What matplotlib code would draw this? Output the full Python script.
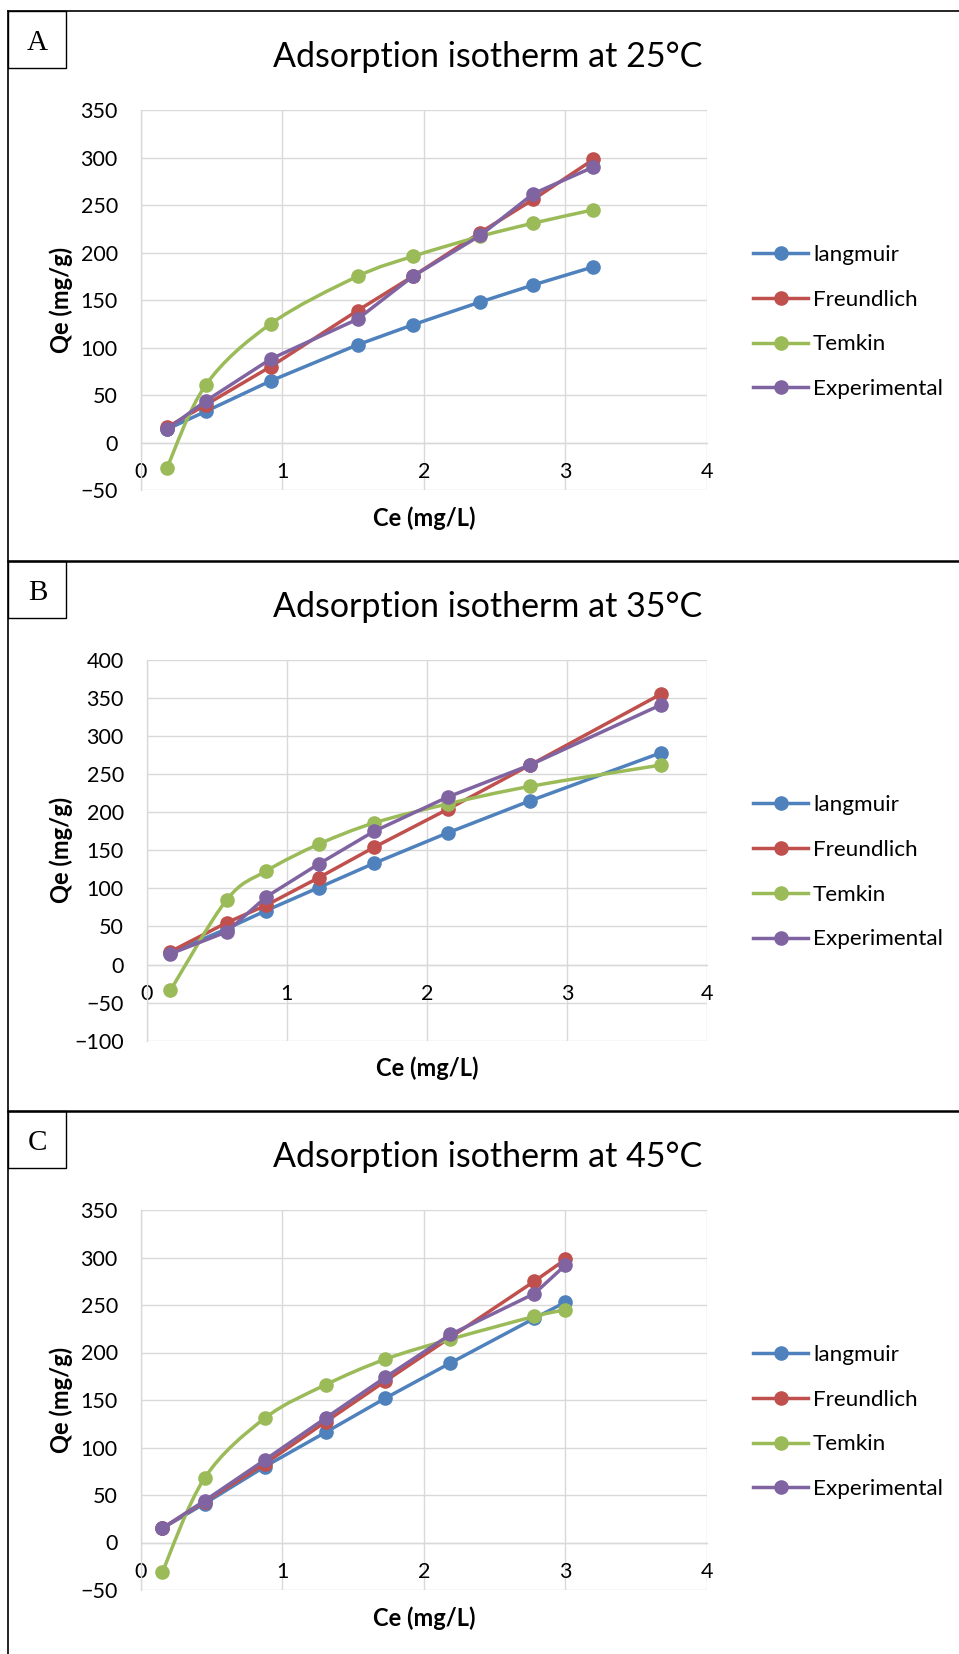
import numpy as np
import matplotlib
matplotlib.use('Agg')
import matplotlib.pyplot as plt
from matplotlib.path import Path
from matplotlib.patches import PathPatch, Rectangle
from matplotlib.lines import Line2D

plt.rcParams['font.family'] = ['Lato', 'DejaVu Sans']

# ---- data ----
series_names = ['langmuir', 'Freundlich', 'Temkin', 'Experimental']
colors = ['#4F81BD', '#C0504D', '#9BBB59', '#8064A2']

ce_25 = [0.184, 0.461, 0.918, 1.532, 1.922, 2.398, 2.774, 3.198]
langmuir_25 = [14, 33, 65, 103, 124, 148, 166, 185]
freundlich_25 = [16, 40, 80, 139, 175, 221, 256, 298]
temkin_25 = [-27, 61, 125, 175, 196, 217, 231, 245]
experimental_25 = [14, 44, 88, 130, 175, 218, 262, 290]

ce_35 = [0.169, 0.571, 0.854, 1.227, 1.623, 2.149, 2.736, 3.669]
langmuir_35 = [15, 47, 71, 101, 133, 173, 215, 278]
freundlich_35 = [17, 55, 78, 114, 154, 204, 262, 355]
temkin_35 = [-34, 85, 123, 158, 186, 211, 234, 262]
experimental_35 = [14, 43, 89, 132, 175, 220, 262, 341]

ce_45 = [0.153, 0.452, 0.878, 1.306, 1.729, 2.188, 2.781, 3.0]
langmuir_45 = [15, 41, 80, 116, 152, 189, 236, 253]
freundlich_45 = [15, 43, 83, 127, 170, 216, 275, 298]
temkin_45 = [-31, 68, 131, 166, 193, 214, 238, 245]
experimental_45 = [15, 44, 87, 131, 174, 219, 262, 292]

panel_letters = ['A', 'B', 'C']
titles = ['Adsorption isotherm at 25°C', 'Adsorption isotherm at 35°C',
          'Adsorption isotherm at 45°C']
ylims = [(-50, 350), (-100, 400), (-50, 350)]

W, H = 959, 1654
fig = plt.figure(figsize=(W / 100, H / 100), dpi=100)


def fx(px):
    return px / W


def fy(py):
    return 1 - py / H


def smooth_path(x, y):
    # bezier through the points, like excel's "smoothed line"
    pts = np.column_stack([x, y]).astype(float)
    n = len(pts)
    verts = [pts[0]]
    codes = [Path.MOVETO]
    for i in range(n - 1):
        p0 = pts[i - 1] if i > 0 else pts[i]
        p1, p2 = pts[i], pts[i + 1]
        p3 = pts[i + 2] if i + 2 < n else pts[i + 1]
        verts += [p1 + (p2 - p0) / 6, p2 - (p3 - p1) / 6, p2]
        codes += [Path.CURVE4] * 3
    return Path(verts, codes)


def panel(top, plot_box, ce, ys, letter, title, ylim):
    left, right, ptop, pbot = plot_box
    ax = fig.add_axes([fx(left), fy(pbot), fx(right - left), (pbot - ptop) / H])
    for k, (vals, c, name) in enumerate(zip(ys, colors, series_names)):
        if name == 'Temkin':
            ax.add_patch(PathPatch(smooth_path(ce, vals), fill=False, edgecolor=c,
                                   lw=2.5, zorder=3 + k, capstyle='round'))
            ax.plot(ce, vals, ls='none', marker='o', ms=9.5, color=c, zorder=3 + k)
        else:
            ax.plot(ce, vals, '-o', lw=2.5, ms=9.5, color=c, zorder=3 + k)
    ax.set_xlim(0, 4)
    ax.set_ylim(*ylim)
    ax.set_xticks(range(5))
    ax.set_yticks(np.arange(ylim[0], ylim[1] + 1, 50))
    ax.grid(True, color='#D9D9D9', lw=1.0)
    ax.set_axisbelow(True)
    ax.spines['bottom'].set_position(('data', 0))
    for s in ['top', 'right']:
        ax.spines[s].set_visible(False)
    for s in ['bottom', 'left']:
        ax.spines[s].set_color('#D9D9D9')
        ax.spines[s].set_linewidth(1.0)
    ax.tick_params(axis='both', length=0, labelsize=15.5, colors='#000000')
    ax.tick_params(axis='x', pad=14)
    ax.tick_params(axis='y', pad=16.5)

    # axis titles
    fig.text(fx(61), fy((ptop + pbot) / 2), 'Qe (mg/g)', rotation=90, ha='center',
             va='center', fontsize=17, fontweight='bold')
    fig.text(fx((left + right) / 2 + 0), fy(pbot + 28), 'Ce (mg/L)', ha='center',
             va='center', fontsize=17, fontweight='bold')
    fig.text(fx(488), fy(top + 56), title, ha='center', va='baseline', fontsize=24.5)

    # legend
    handles = [Line2D([], [], color=c, lw=2.5, marker='o', ms=9.5) for c in colors]
    ax.legend(handles, series_names, loc='center left', frameon=False,
              bbox_to_anchor=(fx(753), fy((ptop + pbot) / 2 + 22)),
              bbox_transform=fig.transFigure, fontsize=16.2, handlelength=2.45,
              handletextpad=0.22, labelspacing=1.1, borderpad=0, borderaxespad=0)

    # letter box in the corner
    fig.add_artist(Rectangle((fx(8), fy(top + 57)), fx(58), 57 / H, fill=False,
                             edgecolor='black', lw=1.0, transform=fig.transFigure))
    fig.text(fx(37.5), fy(top + 39), letter, ha='center', va='baseline',
             fontsize=21, family='Liberation Serif')
    return ax


tops = [11, 561, 1111]
boxes = [(140.7, 707, 110, 490.2), (146.7, 707, 660, 1040.7), (140.7, 707, 1210, 1590)]
all_ce = [ce_25, ce_35, ce_45]
all_ys = [[langmuir_25, freundlich_25, temkin_25, experimental_25],
          [langmuir_35, freundlich_35, temkin_35, experimental_35],
          [langmuir_45, freundlich_45, temkin_45, experimental_45]]

for i in range(3):
    panel(tops[i], boxes[i], all_ce[i], all_ys[i], panel_letters[i], titles[i], ylims[i])

# outer frame
fig.add_artist(Line2D([fx(8), fx(8)], [fy(11), 0], color='black', lw=1.2))
for t in tops:
    fig.add_artist(Line2D([fx(8), 1], [fy(t), fy(t)], color='black',
                          lw=1.2 if t == 11 else 1.8))

fig.savefig('out.png', dpi=100)
